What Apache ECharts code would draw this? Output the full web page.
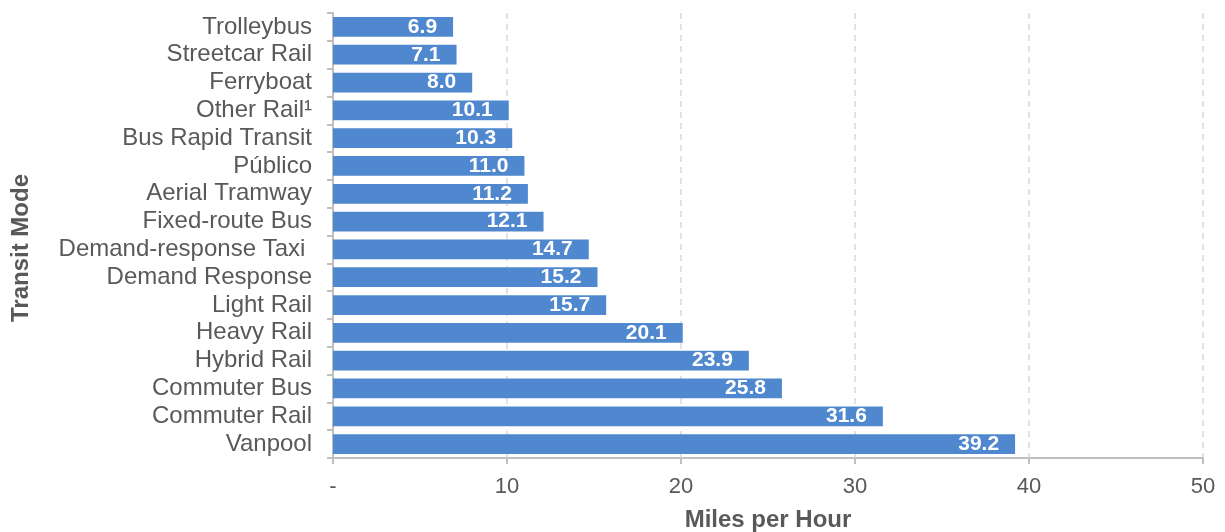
<!DOCTYPE html>
<html>
<head>
<meta charset="utf-8">
<script src="https://cdn.jsdelivr.net/npm/echarts@6/dist/echarts.min.js"></script>
<style>html,body{margin:0;padding:0;background:#fff}#c{width:1225px;height:532px}</style>
</head>
<body>
<div id="c"></div>
<script>
const categories = ["Trolleybus","Streetcar Rail","Ferryboat","Other Rail\u00b9","Bus Rapid Transit","P\u00fablico","Aerial Tramway","Fixed-route Bus","Demand-response Taxi ","Demand Response","Light Rail","Heavy Rail","Hybrid Rail","Commuter Bus","Commuter Rail","Vanpool"];
const speeds = [6.9,7.1,8.0,10.1,10.3,11.0,11.2,12.1,14.7,15.2,15.7,20.1,23.9,25.8,31.6,39.2];
const xTicks = {min:0,max:50,interval:10};
const xAxisTitle = "Miles per Hour";
const yAxisTitle = "Transit Mode";

const chart = echarts.init(document.getElementById('c'));
chart.setOption({
  animation:false,
  grid:{left:333,right:22,top:13,bottom:74,containLabel:false,outerBoundsMode:'none'},
  xAxis:{
    type:'value',min:xTicks.min,max:xTicks.max,interval:xTicks.interval,
    name:xAxisTitle,nameLocation:'middle',nameGap:50,
    nameTextStyle:{fontFamily:'Liberation Sans',fontSize:24,fontWeight:'bold',color:'#595959'},
    axisLine:{show:true,lineStyle:{color:'#BFBFBF',width:2}},
    axisTick:{show:true,length:6,lineStyle:{color:'#BFBFBF',width:2}},
    axisLabel:{fontFamily:'Liberation Sans',fontSize:22,color:'#595959',margin:18,hideOverlap:false,
      formatter:v=>v===0?'-':String(v)},
    splitLine:{show:true,lineStyle:{color:'#D9D9D9',type:[6,5],width:1.5}}
  },
  yAxis:{
    type:'category',data:categories,inverse:true,
    name:yAxisTitle,nameLocation:'middle',nameGap:300,nameRotate:90,
    nameTextStyle:{fontFamily:'Liberation Sans',fontSize:24,fontWeight:'bold',color:'#595959',padding:[0,25,0,0]},
    axisLine:{show:true,lineStyle:{color:'#BFBFBF',width:2}},
    axisTick:{show:true,length:6,interval:0,lineStyle:{color:'#BFBFBF',width:2}},
    axisLabel:{fontFamily:'Liberation Sans',fontSize:24,color:'#595959',margin:21,interval:0,hideOverlap:false},
    splitLine:{show:false}
  },
  series:[{
    type:'bar',data:speeds,barCategoryGap:'29%',
    itemStyle:{color:'#4F88CE'},
    label:{show:true,position:'insideRight',distance:16,color:'#fff',fontFamily:'Liberation Sans',fontSize:21,fontWeight:'bold',
      formatter:p=>p.value.toFixed(1)}
  }]
});
</script>
</body>
</html>
